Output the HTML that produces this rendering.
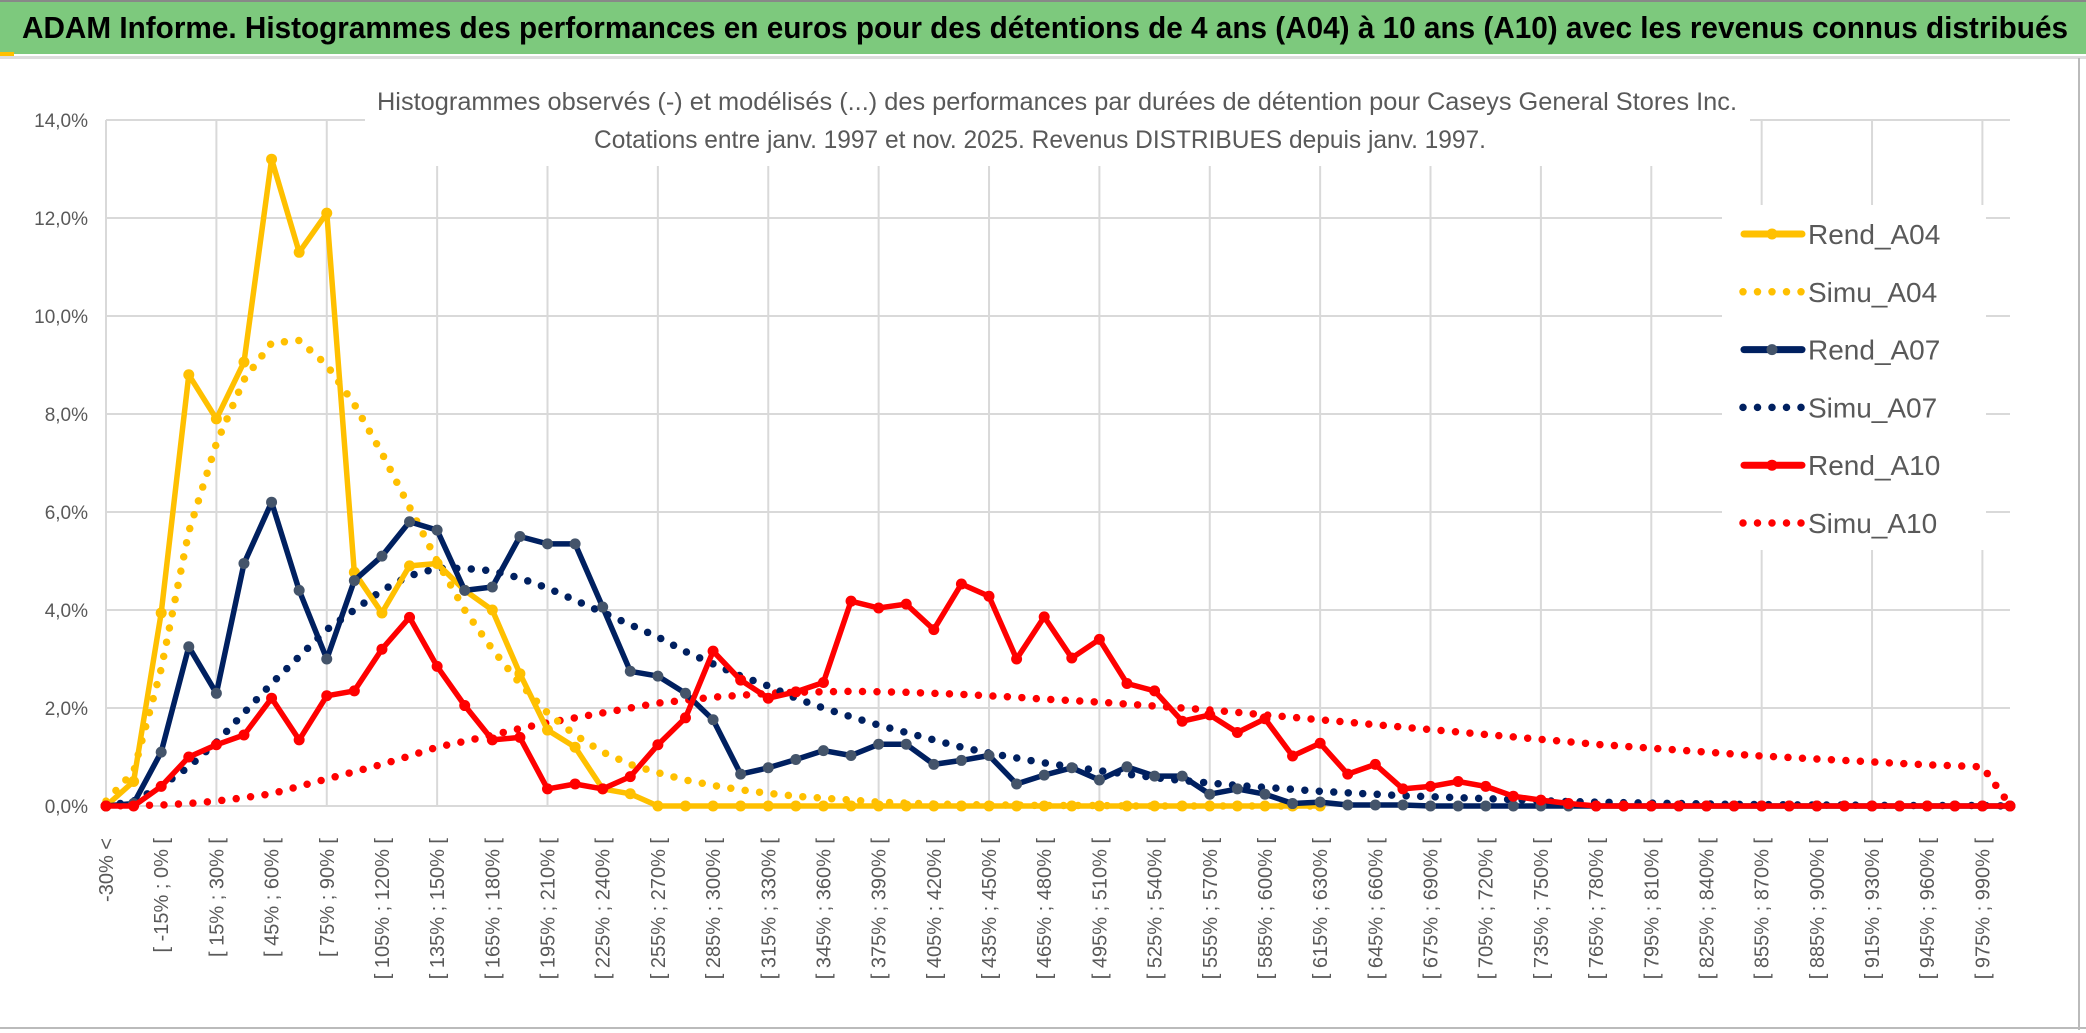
<!DOCTYPE html>
<html><head><meta charset="utf-8"><style>
html,body{margin:0;padding:0;background:#fff;}
svg{display:block;font-family:"Liberation Sans Narrow","Liberation Sans",sans-serif;}
</style></head><body>
<svg id="chart" width="2086" height="1033" viewBox="0 0 2086 1033" xmlns="http://www.w3.org/2000/svg">
<rect x="0" y="0" width="2086" height="1033" fill="#fff"/>
<rect x="0" y="0" width="2086" height="54" fill="#7DC97D"/>
<rect x="0" y="0" width="2086" height="2" fill="#888"/>
<rect x="0" y="52" width="14" height="4" fill="#FFC000"/>
<rect x="0" y="56" width="2086" height="3" fill="#ddd"/>
<text x="22" y="38" font-size="31" font-weight="bold" fill="#000" textLength="2046" lengthAdjust="spacingAndGlyphs">ADAM Informe. Histogrammes des performances en euros pour des détentions de 4 ans (A04) à 10 ans (A10) avec les revenus connus distribués</text>
<line x1="2079" y1="58" x2="2079" y2="1030" stroke="#bbb" stroke-width="2"/>
<line x1="0" y1="1028" x2="2086" y2="1028" stroke="#bbb" stroke-width="2"/>
<g id="grid"></g>
<rect x="365" y="82" width="1385" height="84" fill="#fff"/>
<text x="1057" y="110" font-size="25" fill="#595959" text-anchor="middle" textLength="1360" lengthAdjust="spacingAndGlyphs">Histogrammes observés (-) et modélisés (...) des performances par durées de détention pour Caseys General Stores Inc.</text>
<text x="1040" y="148" font-size="25" fill="#595959" text-anchor="middle" textLength="892" lengthAdjust="spacingAndGlyphs">Cotations entre janv. 1997 et nov. 2025. Revenus DISTRIBUES depuis janv. 1997.</text>
<g id="series"></g>
<g id="axes"></g>
<g id="legend"></g>
</svg>
<script>
const rendA04=[0,0.5,3.94,8.8,7.9,9.06,13.2,11.3,12.1,4.77,3.94,4.9,4.95,4.4,4.0,2.7,1.55,1.2,0.35,0.25,0,0,0,0,0,0,0,0,0,0,0,0,0,0,0,0,0,0,0,0,0,0,0,0,0];
const simuA04=[0.1,0.7,2.8,5.6,7.4,8.7,9.45,9.5,9.0,8.2,7.2,6.1,5.0,4.0,3.2,2.5,1.9,1.45,1.1,0.85,0.68,0.53,0.42,0.33,0.26,0.2,0.16,0.12,0.08,0.06,0.04,0.03,0.02,0.02,0.01,0.01,0.01,0,0,0,0,0,0,0,0];
const rendA07=[0,0.05,1.1,3.25,2.3,4.95,6.2,4.4,3.0,4.6,5.1,5.8,5.63,4.4,4.47,5.5,5.35,5.35,4.06,2.75,2.65,2.3,1.76,0.65,0.78,0.95,1.13,1.03,1.26,1.26,0.85,0.93,1.03,0.45,0.63,0.78,0.53,0.8,0.61,0.61,0.24,0.35,0.24,0.05,0.08,0.02,0.02,0.02,0,0,0,0,0,0,0,0,0,0,0,0,0,0,0,0,0,0,0,0,0,0];
const simuA07=[0,0.1,0.4,0.8,1.3,1.9,2.5,3.05,3.6,4.0,4.4,4.7,4.85,4.85,4.8,4.65,4.45,4.2,3.95,3.7,3.45,3.15,2.9,2.65,2.45,2.2,2.0,1.82,1.65,1.5,1.35,1.2,1.08,0.98,0.88,0.8,0.72,0.65,0.58,0.52,0.47,0.42,0.38,0.34,0.3,0.27,0.24,0.21,0.19,0.17,0.15,0.13,0.11,0.09,0.08,0.07,0.06,0.05,0.04,0.035,0.03,0.025,0.02,0.02,0.015,0.01,0.01,0.01,0.01,0];
const rendA10=[0,0,0.4,1.0,1.25,1.45,2.2,1.35,2.25,2.35,3.2,3.85,2.85,2.05,1.35,1.4,0.35,0.45,0.35,0.6,1.25,1.8,3.16,2.57,2.2,2.33,2.52,4.18,4.04,4.12,3.6,4.53,4.28,3.0,3.86,3.02,3.4,2.5,2.35,1.73,1.86,1.5,1.78,1.02,1.28,0.65,0.85,0.35,0.4,0.5,0.4,0.2,0.12,0.05,0,0,0,0,0,0,0,0,0,0,0,0,0,0,0,0];
const simuA10=[0,0.01,0.02,0.05,0.1,0.17,0.25,0.4,0.55,0.7,0.85,1.02,1.2,1.32,1.45,1.58,1.7,1.8,1.9,2.0,2.1,2.16,2.22,2.26,2.3,2.32,2.33,2.34,2.33,2.32,2.3,2.28,2.25,2.22,2.18,2.15,2.12,2.08,2.04,2.0,1.96,1.91,1.86,1.81,1.76,1.71,1.66,1.61,1.56,1.51,1.46,1.41,1.36,1.31,1.26,1.22,1.18,1.14,1.1,1.06,1.02,0.99,0.96,0.93,0.9,0.87,0.84,0.82,0.8,0.02];
const yTicks=[0,2,4,6,8,10,12,14];
const yTickLabels=["0,0%","2,0%","4,0%","6,0%","8,0%","10,0%","12,0%","14,0%"];
const categories=["-30% <"];
for(let lo=-30;lo<=990;lo+=15){categories.push("[ "+lo+"% ; "+(lo+15)+"% [");}

const NS="http://www.w3.org/2000/svg";
const X0=106,X1=2010,Y0=806,Y1=120,YMAX=14;
const n=categories.length;
function xs(i){return X0+i*(X1-X0)/(n-1);}
function ys(v){return Y0-v*(Y0-Y1)/YMAX;}
function mk(tag,attrs,parent){const e=document.createElementNS(NS,tag);for(const k in attrs)e.setAttribute(k,attrs[k]);parent.appendChild(e);return e;}

const grid=document.getElementById('grid');
yTicks.forEach((t,k)=>{
  const l=mk('line',{x1:X0,x2:X1,y1:ys(t),y2:ys(t),stroke:'#d9d9d9','stroke-width':2},grid);
  
  
});
for(let i=0;i<n;i+=4){
  const l=mk('line',{x1:xs(i),x2:xs(i),y1:Y1,y2:Y0,stroke:'#d9d9d9','stroke-width':2},grid);
  
  
}
const axes=document.getElementById('axes');
yTicks.forEach((t,k)=>{
  const tx=mk('text',{x:88,y:ys(t)+7,'font-size':19,fill:'#595959','text-anchor':'end'},axes);
  tx.textContent=yTickLabels[k];
  
  
});
for(let i=0;i<n;i+=2){
  const x=xs(i)+7,y=838;
  const tx=mk('text',{x:x,y:y,'font-size':20,fill:'#595959','text-anchor':'end',transform:'rotate(-90 '+x+' '+y+')',style:'font-family:"Liberation Sans",sans-serif'},axes);
  tx.textContent=categories[i];
  
  
}

const sg=document.getElementById('series');
function pathOf(arr){return arr.map((v,i)=>(i?'L':'M')+xs(i).toFixed(1)+' '+ys(v).toFixed(1)).join(' ');}
function dotted(arr,color,name){
  const p=mk('path',{d:pathOf(arr),fill:'none',stroke:color,'stroke-width':7.5,'stroke-linecap':'round','stroke-dasharray':'0 14.5'},sg);
  
  
}
function solid(arr,color,mcol,name){
  const g=mk('g',{},sg);
  
  
  mk('path',{d:pathOf(arr),fill:'none',stroke:color,'stroke-width':5.5,'stroke-linejoin':'round'},g);
  arr.forEach((v,i)=>{
    const c=mk('circle',{cx:xs(i),cy:ys(v),r:5.5,fill:mcol},g);
    
    
  });
}
dotted(simuA10,'#FF0000','simu-a10-line');
dotted(simuA07,'#002060','simu-a07-line');
dotted(simuA04,'#FFC000','simu-a04-line');
solid(rendA04,'#FFC000','#FFC000','rend-a04-line');
solid(rendA07,'#002060','#44546A','rend-a07-line');
solid(rendA10,'#FF0000','#FF0000','rend-a10-line');

const lg=document.getElementById('legend');
const bg=mk('rect',{x:1722,y:205,width:264,height:345,fill:'#fff'},lg);


const leg=[["Rend_A04","#FFC000","#FFC000",false],["Simu_A04","#FFC000","",true],["Rend_A07","#002060","#44546A",false],["Simu_A07","#002060","",true],["Rend_A10","#FF0000","#FF0000",false],["Simu_A10","#FF0000","",true]];
leg.forEach((e,k)=>{
  const y=234+k*57.8;
  const g=mk('g',{},lg);
  
  
  if(e[3]){
    mk('line',{x1:1743,x2:1802,y1:y,y2:y,stroke:e[1],'stroke-width':7.5,'stroke-linecap':'round','stroke-dasharray':'0 14.5'},g);
  }else{
    mk('line',{x1:1744,x2:1802,y1:y,y2:y,stroke:e[1],'stroke-width':7,'stroke-linecap':'round'},g);
    mk('circle',{cx:1772,cy:y,r:5.5,fill:e[2]},g);
  }
  const t=mk('text',{x:1808,y:y+10,'font-size':28,fill:'#595959'},g);
  t.textContent=e[0];
});
</script>
</body></html>
